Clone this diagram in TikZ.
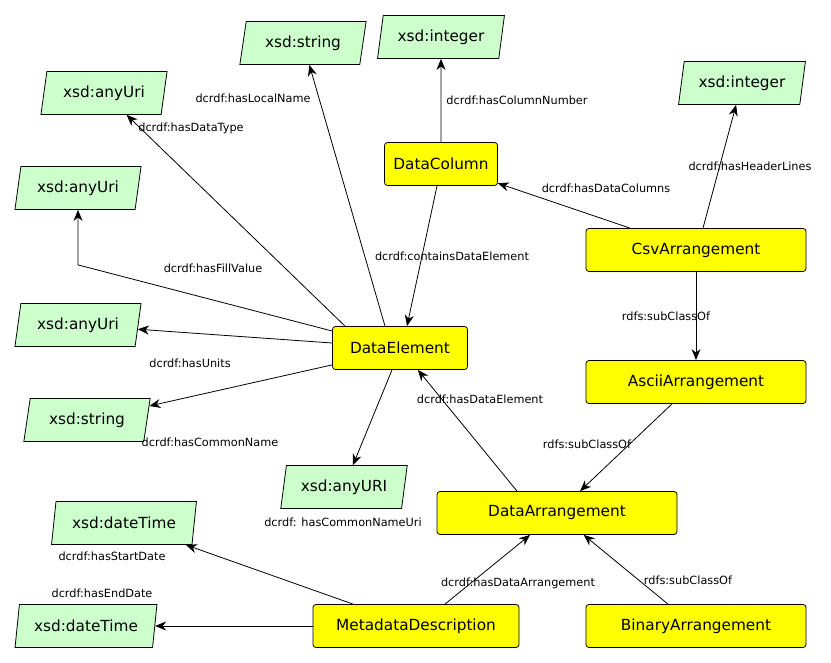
\documentclass[tikz,border=0pt]{standalone}
\usepackage{fontspec}
\setmainfont{DejaVu Sans}
\usetikzlibrary{shapes.geometric, arrows.meta, calc}
\definecolor{litGreen}{HTML}{CCFFCC}
\definecolor{clsYellow}{HTML}{FFFF00}
\tikzset{
    >={Stealth[length=11pt, width=9pt, inset=3.5pt]},
    % Shapes
    cls/.style={rectangle, draw=black, fill=clsYellow, line width=0.8pt, rounded corners=3pt,
                minimum height=43pt, inner sep=0pt, font=\fontsize{15.3}{17}\selectfont},
    lit/.style={trapezium, trapezium left angle=74, trapezium right angle=106, trapezium stretches=true,
                draw=black, fill=litGreen, line width=0.8pt, minimum height=43pt, minimum width=127pt,
                inner sep=0pt, font=\fontsize{15.3}{17}\selectfont},
    % Flow & Labels
    rel/.style={->, line width=0.8pt},
    lbl/.style={font=\fontsize{11.3}{13}\selectfont, inner sep=0pt}
}
\begin{document}
\begin{tikzpicture}[x=1pt, y=-1pt]
\useasboundingbox (0,0) rectangle (831,663);

% classes
\node[cls, minimum width=113pt] (dataColumn) at (441,164) {DataColumn};
\node[cls, minimum width=135pt] (dataElement) at (400,348) {DataElement};
\node[cls, minimum width=220pt] (csvArr) at (696,250) {CsvArrangement};
\node[cls, minimum width=220pt] (asciiArr) at (696,382) {AsciiArrangement};
\node[cls, minimum width=240pt] (dataArr) at (557,513) {DataArrangement};
\node[cls, minimum width=206pt] (metaDesc) at (416,626) {MetadataDescription};
\node[cls, minimum width=220pt] (binaryArr) at (696,626) {BinaryArrangement};

% literals
\node[lit] (localName) at (303,43) {xsd:string};
\node[lit] (columnNumber) at (441,37) {xsd:integer};
\node[lit] (dataType) at (104,93) {xsd:anyUri};
\node[lit] (headerLines) at (742,83) {xsd:integer};
\node[lit] (fillValue) at (78,188) {xsd:anyUri};
\node[lit] (units) at (78,325) {xsd:anyUri};
\node[lit] (commonName) at (87,420) {xsd:string};
\node[lit] (commonNameUri) at (344,487) {xsd:anyURI};
\node[lit, minimum width=145pt] (startDate) at (124,523) {xsd:dateTime};
\node[lit, minimum width=142pt] (endDate) at (86,626) {xsd:dateTime};

% relations
\draw[rel] ([xshift=-15pt]dataElement.north) -- (localName);
\draw[rel] ([xshift=-55pt]dataElement.north) -- (dataType);
\draw[rel] ([yshift=17pt]dataElement.west) -- ($(fillValue.south)+(0,55)$) -- (fillValue.south);
\draw[rel] ([yshift=5pt]dataElement.west) -- (units);
\draw[rel] ([yshift=5pt]dataElement.south west) -- (commonName);
\draw[rel] ([xshift=-8pt]dataElement.south) -- (commonNameUri);
\draw[rel] (dataColumn.north) -- (columnNumber.south);
\draw[rel] ([xshift=-4pt]dataColumn.south) -- ([xshift=7pt]dataElement.north);
\draw[rel] ([xshift=-66pt]csvArr.north) -- (dataColumn);
\draw[rel] ([xshift=7pt]csvArr.north) -- (headerLines);
\draw[rel] (csvArr) -- (asciiArr);
\draw[rel] ([xshift=-24pt]asciiArr.south) -- (dataArr);
\draw[rel] ([xshift=-40pt]dataArr.north) -- (dataElement);
\draw[rel] ([xshift=29pt]metaDesc.north) -- (dataArr);
\draw[rel] ([xshift=-28pt]binaryArr.north) -- (dataArr);
\draw[rel] ([xshift=-63pt]metaDesc.north) -- (startDate);
\draw[rel] (metaDesc) -- (endDate);

% labels
\node[lbl] at (253,98) {dcrdf:hasLocalName};
\node[lbl] at (191,128) {dcrdf:hasDataType};
\node[lbl] at (213,268) {dcrdf:hasFillValue};
\node[lbl] at (190,363) {dcrdf:hasUnits};
\node[lbl] at (210,442) {dcrdf:hasCommonName};
\node[lbl] at (343,522) {dcrdf: hasCommonNameUri};
\node[lbl] at (452,256) {dcrdf:containsDataElement};
\node[lbl] at (517,100) {dcrdf:hasColumnNumber};
\node[lbl] at (606,188) {dcrdf:hasDataColumns};
\node[lbl] at (750,166) {dcrdf:hasHeaderLines};
\node[lbl] at (666,316) {rdfs:subClassOf};
\node[lbl] at (587,444) {rdfs:subClassOf};
\node[lbl] at (480,399) {dcrdf:hasDataElement};
\node[lbl] at (518,583) {dcrdf:hasDataArrangement};
\node[lbl] at (688,580) {rdfs:subClassOf};
\node[lbl] at (112,556) {dcrdf:hasStartDate};
\node[lbl] at (102,593) {dcrdf:hasEndDate};

\end{tikzpicture}
\end{document}
